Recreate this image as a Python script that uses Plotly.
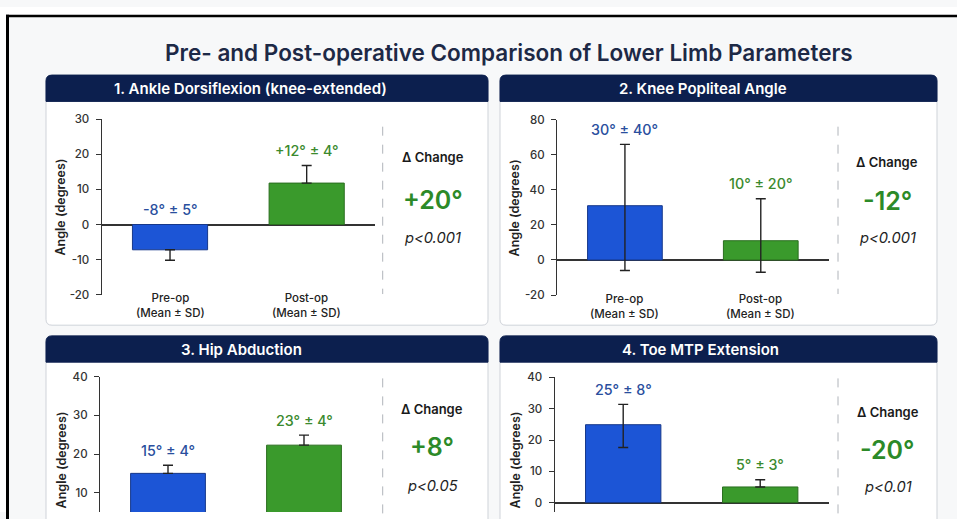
import plotly.graph_objects as go

W, H = 957, 519

# ---------------- data ----------------
categories = ["Pre-op", "Post-op"]
category_sub = "(Mean ± SD)"
chart_title = "Pre- and Post-operative Comparison of Lower Limb Parameters"
panel_titles = ["1. Ankle Dorsiflexion (knee-extended)", "2. Knee Popliteal Angle",
                "3. Hip Abduction", "4. Toe MTP Extension"]

ankle_means = [-7.2, 11.8]
ankle_err_up = [0, 5.0]
ankle_err_down = [3.0, 0]
ankle_labels = ["-8° ± 5°", "+12° ± 4°"]
ankle_ticks = [-20, -10, 0, 10, 20, 30]

knee_means = [31, 11]
knee_err_up = [35, 24]
knee_err_down = [37, 18]
knee_labels = ["30° ± 40°", "10° ± 20°"]
knee_ticks = [-20, 0, 20, 40, 60, 80]

hip_means = [15.0, 22.3]
hip_err_up = [2.1, 2.6]
hip_err_down = [0, 0]
hip_labels = ["15° ± 4°", "23° ± 4°"]
hip_ticks = [0, 10, 20, 30, 40]

toe_means = [24.9, 5.0]
toe_err_up = [6.5, 2.3]
toe_err_down = [7.3, 0]
toe_labels = ["25° ± 8°", "5° ± 3°"]
toe_ticks = [0, 10, 20, 30, 40]

delta_labels = ["+20°", "-12°", "+8°", "-20°"]
p_labels = ["p<0.001", "p<0.001", "p<0.05", "p<0.01"]
y_ranges = [[-20, 30], [-20, 80], [5.0, 40], [-3.0, 40]]
y_title = "Angle (degrees)"
delta_head = "Δ Change"

# ---------------- styling / geometry ----------------
FONT = "Inter, Roboto, 'Open Sans', sans-serif"
NAVY = "#0c1f4e"
BLUE = "#1c55d6"
BLUE_EDGE = "#17388a"
GREEN = "#3a9a2c"
GREEN_EDGE = "#2a6e1f"
BLUE_TXT = "#2a4f9e"
GREEN_TXT = "#3b8a2e"
BIG_GREEN = "#2c8a28"
PAGE_BG = "#f7f8f9"


def px(x):
    return x / W


def py(y):
    return 1 - y / H


panels = [
    dict(x0=46, x1=488, hy0=70, hy1=97, by1=327, ax=(101.7, 375), ay=(115.3, 295.7),
         sep_x=382.7, sep_y=(123, 295), dx=432.7, dy=(154, 198.3, 237.3),
         cat_y=306.7, yt_x=60, yt_y=205, head_cx=250.5),
    dict(x0=500, x1=937, hy0=70, hy1=97, by1=327, ax=(557, 828.7), ay=(116, 296),
         sep_x=838, sep_y=(123, 295), dx=887, dy=(159, 199, 237),
         cat_y=307.5, yt_x=514, yt_y=207, head_cx=702.7),
    dict(x0=46, x1=488, hy0=338, hy1=365, by1=560, ax=(100, 372), ay=(380, 519),
         sep_x=382.7, sep_y=(381.7, 560), dx=432, dy=(413.3, 451.7, 492.7),
         cat_y=None, yt_x=61, yt_y=466, head_cx=241),
    dict(x0=500, x1=937, hy0=338, hy1=365, by1=560, ax=(554.7, 828.7), ay=(380.7, 519),
         sep_x=838, sep_y=(381.7, 560), dx=887.7, dy=(416, 455, 493.3),
         cat_y=None, yt_x=515, yt_y=466, head_cx=700.5),
]

series = [
    (ankle_means, ankle_err_up, ankle_err_down, ankle_labels, ankle_ticks),
    (knee_means, knee_err_up, knee_err_down, knee_labels, knee_ticks),
    (hip_means, hip_err_up, hip_err_down, hip_labels, hip_ticks),
    (toe_means, toe_err_up, toe_err_down, toe_labels, toe_ticks),
]


def rrect_path(x0, y0, x1, y1, rt, rb):
    pts = []
    pts.append(f"M{px(x0 + rt)},{py(y0)}")
    pts.append(f"L{px(x1 - rt)},{py(y0)}")
    pts.append(f"Q{px(x1)},{py(y0)} {px(x1)},{py(y0 + rt)}")
    pts.append(f"L{px(x1)},{py(y1 - rb)}")
    pts.append(f"Q{px(x1)},{py(y1)} {px(x1 - rb)},{py(y1)}")
    pts.append(f"L{px(x0 + rb)},{py(y1)}")
    pts.append(f"Q{px(x0)},{py(y1)} {px(x0)},{py(y1 - rb)}")
    pts.append(f"L{px(x0)},{py(y0 + rt)}")
    pts.append(f"Q{px(x0)},{py(y0)} {px(x0 + rt)},{py(y0)}")
    pts.append("Z")
    return " ".join(pts)


fig = go.Figure()
shapes = []
annotations = []
layout_axes = {}

# frame / background
shapes.append(dict(type="rect", xref="paper", yref="paper", x0=0, x1=1, y0=0, y1=1,
                   fillcolor=PAGE_BG, line=dict(width=0), layer="below"))
shapes.append(dict(type="rect", xref="paper", yref="paper", x0=0, x1=1, y0=py(8), y1=1,
                   fillcolor="#ffffff", line=dict(width=0), layer="below"))
shapes.append(dict(type="rect", xref="paper", yref="paper", x0=0, x1=px(6), y0=0, y1=1,
                   fillcolor="#ffffff", line=dict(width=0), layer="below"))
shapes.append(dict(type="rect", xref="paper", yref="paper", x0=px(6), x1=1, y0=py(10.5), y1=py(8),
                   fillcolor="#000000", line=dict(width=0), layer="below"))
shapes.append(dict(type="rect", xref="paper", yref="paper", x0=px(6), x1=px(9), y0=-0.1, y1=py(8),
                   fillcolor="#000000", line=dict(width=0), layer="below"))

annotations.append(dict(text=chart_title, xref="paper", yref="paper", x=px(509), y=py(47),
                        xanchor="center", yanchor="middle", showarrow=False,
                        font=dict(family=FONT, size=22.5, color="#1d2946", weight=600)))

for i, (p, (means, up, down, labels, ticks)) in enumerate(zip(panels, series)):
    n = "" if i == 0 else str(i + 1)
    xa, ya = "x" + n, "y" + n

    # panel body + header
    shapes.append(dict(type="path", xref="paper", yref="paper",
                       path=rrect_path(p["x0"], p["hy0"], p["x1"], p["by1"], 6, 6),
                       fillcolor="#ffffff", line=dict(color="#cfd3d9", width=1), layer="below"))
    shapes.append(dict(type="path", xref="paper", yref="paper",
                       path=rrect_path(p["x0"], p["hy0"], p["x1"], p["hy1"], 6, 0),
                       fillcolor=NAVY, line=dict(color=NAVY, width=1), layer="below"))
    annotations.append(dict(text=panel_titles[i], xref="paper", yref="paper",
                            x=px(p["head_cx"]), y=py((p["hy0"] + p["hy1"]) / 2),
                            xanchor="center", yanchor="middle", showarrow=False,
                            font=dict(family=FONT, size=15, color="#ffffff", weight=600)))

    # axes
    layout_axes["xaxis" + n] = dict(domain=[px(p["ax"][0]), px(p["ax"][1])], anchor=ya,
                                    type="category", range=[-0.5, 1.5], showline=False,
                                    showticklabels=False, ticks="", showgrid=False,
                                    zeroline=False, fixedrange=True)
    layout_axes["yaxis" + n] = dict(domain=[max(0, py(p["ay"][1])), py(p["ay"][0])], anchor=xa,
                                    range=y_ranges[i], tickmode="array", tickvals=ticks,
                                    ticktext=[str(t) for t in ticks],
                                    showline=True, linecolor="#333333",
                                    linewidth=1.2, ticks="outside", ticklen=5, tickwidth=1.2,
                                    tickcolor="#333333", showgrid=False, zeroline=True,
                                    zerolinecolor="#333333", zerolinewidth=1.5,
                                    ticklabelstandoff=4, fixedrange=True,
                                    tickfont=dict(family=FONT, size=11.5, color="#333333", weight=500))

    fig.add_trace(go.Bar(x=categories, y=means, xaxis=xa, yaxis=ya, width=0.55,
                         marker=dict(color=[BLUE, GREEN],
                                     line=dict(color=[BLUE_EDGE, GREEN_EDGE], width=1)),
                         error_y=dict(type="data", symmetric=False, array=up, arrayminus=down,
                                      color="#222222", thickness=1.4, width=5),
                         hoverinfo="skip", showlegend=False))

    # value labels
    for j, cat in enumerate(categories):
        anchor_v = max(means[j] + up[j], 0)
        annotations.append(dict(text=labels[j], xref=xa, yref=ya, x=cat, y=anchor_v,
                                xanchor="center", yanchor="middle", yshift=15, showarrow=False,
                                font=dict(family=FONT, size=14.3, weight=500,
                                          color=BLUE_TXT if j == 0 else GREEN_TXT)))
        if p["cat_y"] is not None:
            annotations.append(dict(text=f"{cat}<br>{category_sub}", xref=xa, yref="paper",
                                    x=cat, y=py(p["cat_y"]), xanchor="center", yanchor="middle",
                                    showarrow=False,
                                    font=dict(family=FONT, size=11.5, color="#222222", weight=500)))

    # y title
    annotations.append(dict(text=y_title, xref="paper", yref="paper", x=px(p["yt_x"]),
                            y=py(p["yt_y"]), xanchor="center", yanchor="middle", textangle=-90,
                            showarrow=False,
                            font=dict(family=FONT, size=12.5, color="#222222", weight=600)))

    # separator
    shapes.append(dict(type="line", xref="paper", yref="paper", x0=px(p["sep_x"]), x1=px(p["sep_x"]),
                       y0=py(p["sep_y"][0]), y1=py(p["sep_y"][1]),
                       line=dict(color="#b0b4ba", width=1, dash="dash")))

    # delta block
    annotations.append(dict(text=delta_head, xref="paper", yref="paper", x=px(p["dx"]), y=py(p["dy"][0]),
                            xanchor="center", yanchor="middle", showarrow=False,
                            font=dict(family=FONT, size=13, color="#1a1a1a", weight=600)))
    annotations.append(dict(text=delta_labels[i], xref="paper", yref="paper", x=px(p["dx"]), y=py(p["dy"][1]),
                            xanchor="center", yanchor="middle", showarrow=False,
                            font=dict(family=FONT, size=25, color=BIG_GREEN, weight=600)))
    annotations.append(dict(text=p_labels[i], xref="paper", yref="paper", x=px(p["dx"]), y=py(p["dy"][2]),
                            xanchor="center", yanchor="middle", showarrow=False,
                            font=dict(family=FONT, size=14.7, color="#222222", style="italic")))

fig.update_layout(width=W, height=H, margin=dict(l=0, r=0, t=0, b=0),
                  paper_bgcolor=PAGE_BG, plot_bgcolor="rgba(0,0,0,0)",
                  shapes=shapes, annotations=annotations, showlegend=False,
                  bargap=0.45, **layout_axes)

post = ("document.documentElement.style.margin='0';document.body.style.margin='0';"
        "document.body.style.padding='0';document.body.style.overflow='hidden';"
        "document.documentElement.style.overflow='hidden';"
        "var gd=document.getElementById('{plot_id}');gd.style.position='absolute';"
        "gd.style.left='0px';gd.style.top='0px';")
fig.write_html("out.html", config={"displayModeBar": False}, post_script=post)
